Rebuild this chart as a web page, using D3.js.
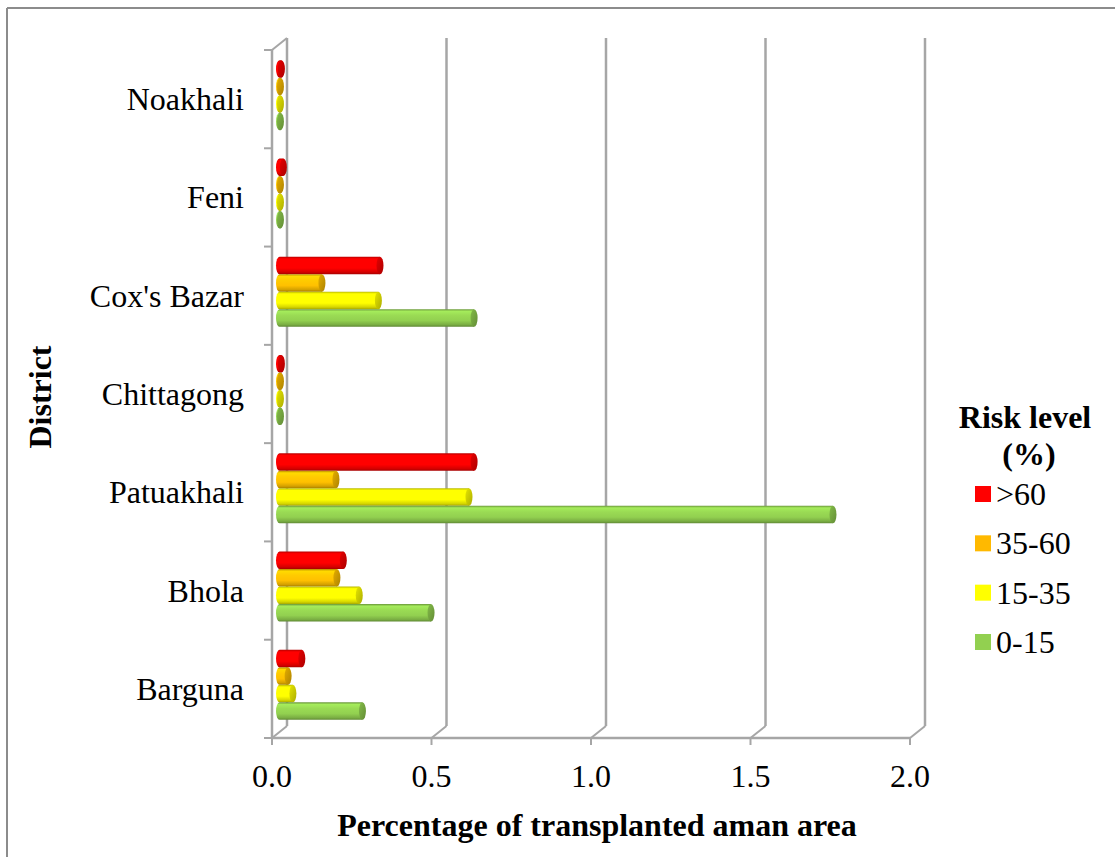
<!DOCTYPE html>
<html>
<head>
<meta charset="utf-8">
<script src="https://cdnjs.cloudflare.com/ajax/libs/d3/7.8.5/d3.min.js"></script>
<style>
  html, body { margin: 0; padding: 0; background: #fff; }
  svg { display: block; font-family: "Liberation Serif", "Times New Roman", serif; }
</style>
</head>
<body>
<svg id="chart" width="1115" height="857"></svg>
<script>
// Districts, bottom to top
const districts = ["Barguna", "Bhola", "Patuakhali", "Chittagong", "Cox's Bazar", "Feni", "Noakhali"];

// Share of transplanted aman area (%) per risk level
const riskAbove60 = [0.07, 0.20, 0.61, 0.006, 0.315, 0.012, 0.006];
const risk35to60  = [0.027, 0.18, 0.177, 0.003, 0.133, 0.003, 0.003];
const risk15to35  = [0.042, 0.25, 0.594, 0.003, 0.31, 0.003, 0.003];
const risk0to15   = [0.26, 0.475, 1.735, 0.003, 0.61, 0.003, 0.003];

const seriesNames  = [">60", "35-60", "15-35", "0-15"];
const seriesColors = ["#ff0000", "#ffc000", "#ffff00", "#92d050"];
const seriesValues = [riskAbove60, risk35to60, risk15to35, risk0to15];

const xTicks = [0, 0.5, 1.0, 1.5, 2.0];

const FONT = 32;

const svg = d3.select("#chart");

// outer frame (left and top edges visible)
svg.append("line").attr("x1", 7).attr("y1", 8).attr("x2", 1115).attr("y2", 8)
  .attr("stroke", "#8c8c8c").attr("stroke-width", 2);
svg.append("line").attr("x1", 7).attr("y1", 8).attr("x2", 7).attr("y2", 857)
  .attr("stroke", "#8c8c8c").attr("stroke-width", 2);

// plot geometry: front plane plus a small depth offset
const front = { left: 272, right: 910, top: 50, bottom: 738 };
const depth = { dx: 15, dy: -12 };

const x = d3.scaleLinear().domain([0, 2]).range([front.left, front.right]);
const y = d3.scaleBand().domain(districts).range([front.bottom, front.top]);

const grid = svg.append("g");
const gridColor = "#a6a6a6";

// back-wall vertical gridlines + floor diagonals
xTicks.forEach(t => {
  const fx = x(t);
  grid.append("line")
    .attr("x1", fx + depth.dx).attr("y1", front.top + depth.dy)
    .attr("x2", fx + depth.dx).attr("y2", front.bottom + depth.dy)
    .attr("stroke", gridColor).attr("stroke-width", 2.5);
  grid.append("line")
    .attr("x1", fx).attr("y1", front.bottom)
    .attr("x2", fx + depth.dx).attr("y2", front.bottom + depth.dy)
    .attr("stroke", gridColor).attr("stroke-width", 2);
});

// left wall: front edge, top diagonal
grid.append("line")
  .attr("x1", front.left).attr("y1", front.top)
  .attr("x2", front.left).attr("y2", front.bottom)
  .attr("stroke", gridColor).attr("stroke-width", 2.5);
grid.append("line")
  .attr("x1", front.left).attr("y1", front.top)
  .attr("x2", front.left + depth.dx).attr("y2", front.top + depth.dy)
  .attr("stroke", gridColor).attr("stroke-width", 2);

// front floor axis
grid.append("line")
  .attr("x1", front.left - 1).attr("y1", front.bottom)
  .attr("x2", front.right).attr("y2", front.bottom)
  .attr("stroke", gridColor).attr("stroke-width", 2.5);

// x axis ticks and labels
const xAxis = svg.append("g");
xTicks.forEach(t => {
  xAxis.append("line")
    .attr("x1", x(t)).attr("y1", front.bottom)
    .attr("x2", x(t)).attr("y2", front.bottom + 7)
    .attr("stroke", gridColor).attr("stroke-width", 2);
  xAxis.append("text")
    .attr("x", x(t)).attr("y", 787)
    .attr("text-anchor", "middle")
    .attr("font-size", FONT).attr("fill", "#000")
    .text(d3.format(".1f")(t));
});

// y axis ticks at category boundaries and district labels
const yAxis = svg.append("g");
const boundaries = districts.map(d => y(d)).concat([front.bottom]);
boundaries.forEach(b => {
  yAxis.append("line")
    .attr("x1", front.left - 8).attr("y1", b)
    .attr("x2", front.left).attr("y2", b)
    .attr("stroke", gridColor).attr("stroke-width", 2);
});
districts.forEach(d => {
  yAxis.append("text")
    .attr("x", 244).attr("y", y(d) + y.bandwidth() / 2 + 11)
    .attr("text-anchor", "end")
    .attr("font-size", FONT).attr("fill", "#000")
    .text(d);
});

// vertical gradients giving each bar a cylinder look
const defs = svg.append("defs");
seriesColors.forEach((c, i) => {
  const base = d3.color(c);
  const g = defs.append("linearGradient")
    .attr("id", "cyl" + i).attr("x1", 0).attr("y1", 0).attr("x2", 0).attr("y2", 1);
  const stops = [
    [0, base.darker(0.9)],
    [0.12, base.brighter(0.35)],
    [0.35, base.brighter(0.15)],
    [0.65, base],
    [0.88, base.darker(0.5)],
    [1, base.darker(1.2)]
  ];
  stops.forEach(([o, col]) => g.append("stop").attr("offset", o).attr("stop-color", col.formatHex()));
  const cap = defs.append("linearGradient")
    .attr("id", "cap" + i).attr("x1", 0).attr("y1", 0).attr("x2", 1).attr("y2", 1);
  cap.append("stop").attr("offset", 0).attr("stop-color", base.darker(0.3).formatHex());
  cap.append("stop").attr("offset", 1).attr("stop-color", base.darker(1.1).formatHex());
});

// bars sit at mid depth
const midX = depth.dx / 2;
const midY = depth.dy / 2;
const barH = 17.5;
const rx = 3.5;
const inner = d3.scaleBand().domain(d3.range(seriesNames.length)).range([0, barH * 4]);

const bars = svg.append("g");
districts.forEach((d, di) => {
  const groupTop = y(d) + y.bandwidth() / 2 + midY + 2 - barH * 2;
  seriesValues.forEach((vals, si) => {
    const v = vals[di];
    const x0 = x(0) + midX;
    const x1 = x(v) + midX;
    const top = groupTop + inner(si);
    const ry = barH / 2;
    const cy = top + ry;
    const g = bars.append("g");
    // body with rounded back end
    g.append("path")
      .attr("d", `M${x1},${top} L${x0},${top} A${rx},${ry} 0 0 0 ${x0},${top + barH} L${x1},${top + barH} Z`)
      .attr("fill", `url(#cyl${si})`);
    // front cap
    g.append("ellipse")
      .attr("cx", x1).attr("cy", cy).attr("rx", rx).attr("ry", ry)
      .attr("fill", `url(#cap${si})`);
  });
});

// axis titles
svg.append("text")
  .attr("x", 597).attr("y", 836)
  .attr("text-anchor", "middle")
  .attr("font-size", FONT).attr("font-weight", "bold")
  .text("Percentage of transplanted aman area");

svg.append("text")
  .attr("transform", "translate(51,397) rotate(-90)")
  .attr("text-anchor", "middle")
  .attr("font-size", FONT).attr("font-weight", "bold")
  .text("District");

// legend
const legend = svg.append("g");
legend.append("text")
  .attr("x", 1025).attr("y", 428)
  .attr("text-anchor", "middle")
  .attr("font-size", FONT).attr("font-weight", "bold")
  .text("Risk level");
legend.append("text")
  .attr("x", 1029).attr("y", 465)
  .attr("text-anchor", "middle")
  .attr("font-size", FONT).attr("font-weight", "bold")
  .text("(%)");

const legendY = d3.scalePoint().domain(seriesNames).range([494, 642]);
seriesNames.forEach((n, i) => {
  const cy = legendY(n);
  legend.append("rect")
    .attr("x", 975).attr("y", cy - 8).attr("width", 16).attr("height", 16)
    .attr("fill", i === 1 ? "#ffb900" : seriesColors[i]);
  legend.append("text")
    .attr("x", 996).attr("y", cy + 11)
    .attr("font-size", FONT)
    .text(n);
});
</script>
</body>
</html>
